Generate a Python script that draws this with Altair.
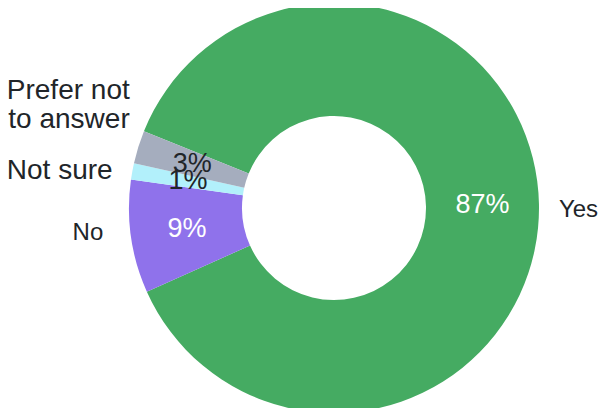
import math
import altair as alt
import pandas as pd

categories = ["Yes", "No", "Not sure", "Prefer not to answer"]
values = [87.2, 8.9, 1.3, 2.6]
pct_labels = ["87%", "9%", "1%", "3%"]
outer_labels = ["Yes", "No", "Not sure", "Prefer not\nto answer"]
colors = ["#45AB62", "#8F72EB", "#B2F0FB", "#A5ADBE"]

df = pd.DataFrame({
    "category": categories,
    "value": values,
    "pct": pct_labels,
    "label": outer_labels,
    "order": list(range(len(categories))),
})

total = float(sum(values))
start_angle = math.radians(292)
theta_scale = alt.Scale(domain=[0, total], range=[start_angle, start_angle + 2 * math.pi])
FONT = "Liberation Sans, Arial, sans-serif"
DARK = "#212529"

base = (
    alt.Chart(df)
    .transform_stack(stack="value", groupby=[], as_=["start", "end"], sort=[alt.SortField("order")])
    .transform_calculate(mid="(datum.start + datum.end) / 2")
)

arcs = base.mark_arc(innerRadius=92, outerRadius=205).encode(
    theta=alt.Theta("start:Q", stack=False, scale=theta_scale),
    theta2="end:Q",
    color=alt.Color("category:N", scale=alt.Scale(domain=categories, range=colors), legend=None),
)

pcts = base.mark_text(radius=148.5, fontSize=27, font=FONT, baseline="middle", align="center").encode(
    theta=alt.Theta("mid:Q", stack=False, scale=theta_scale),
    text="pct:N",
    color=alt.condition(
        "datum.category == 'Yes' || datum.category == 'No'",
        alt.value("white"),
        alt.value(DARK),
    ),
)


def outer(cat, r, align, size, dx, dy):
    return (
        base.transform_filter(alt.datum.category == cat)
        .mark_text(radius=r, align=align, baseline="middle", fontSize=size, font=FONT,
                   dx=dx, dy=dy, lineBreak="\n", lineHeight=29, color=DARK)
        .encode(theta=alt.Theta("mid:Q", stack=False, scale=theta_scale), text="label:N")
    )


labels = [
    outer("Yes", 229, "left", 24, -4, 6),
    outer("No", 229, "right", 24, -4, -7),
    outer("Not sure", 226, "right", 28, 1, 3),
    outer("Prefer not to answer", 215, "right", 28, 1, -53),
]

chart = alt.layer(arcs, pcts, *labels).properties(
    width=532,
    height=400,
    padding={"left": 60, "top": 0, "right": 0, "bottom": 0},
    autosize=alt.AutoSizeParams(type="none"),
).configure_view(stroke=None)

chart.save("out.html", embed_options={"renderer": "svg", "actions": False})
